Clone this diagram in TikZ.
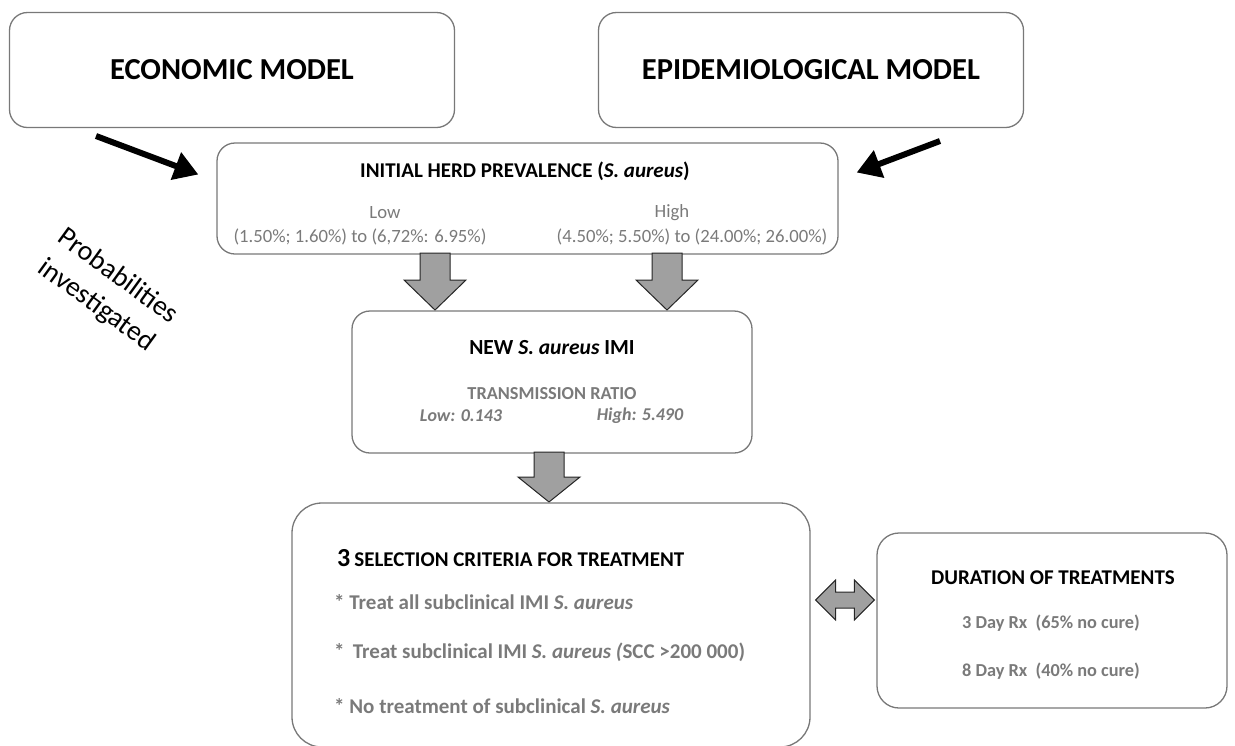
\documentclass[tikz,border=0pt]{standalone}
\usepackage{fontspec}
\setmainfont{Carlito}
\usetikzlibrary{positioning,arrows.meta,calc}
\definecolor{boxline}{RGB}{120,120,120}
\definecolor{softgray}{RGB}{122,122,122}
\definecolor{blockfill}{RGB}{160,160,160}
\tikzset{
  fatarrow/.style={-{Triangle[length=24pt,width=28pt]}, line width=6pt},
  blockarrow/.style={draw=black!85, line width=1pt, fill=blockfill, line join=miter},
  modelbox/.style={draw=boxline, line width=1.3pt, rounded corners=18pt, minimum width=445pt, minimum height=115pt, align=center, font=\bfseries\fontsize{30.5}{34}\selectfont},
  panel/.style={draw=boxline, line width=1.3pt, rounded corners=18pt, inner sep=0pt},
  headtext/.style={font=\bfseries\fontsize{21}{24}\selectfont, inner sep=1pt},
  greytext/.style={text=softgray, font=\fontsize{18.7}{22}\selectfont, inner sep=1pt},
  greybold/.style={text=softgray, font=\bfseries\fontsize{18.3}{21}\selectfont, inner sep=1pt},
  critline/.style={text=softgray, font=\bfseries\fontsize{21}{24}\selectfont, anchor=west, inner sep=1pt}
}
% block arrow pointing down: top point, tip point, head length
\newcommand{\downblock}[3]{%
  \draw[blockarrow] let \p1=#1, \p2=#2 in
    (\x1-15pt,\y1) -- (\x1+15pt,\y1) -- (\x1+15pt,\y2+#3) -- (\x1+31pt,\y2+#3) -- (\x1,\y2)
    -- (\x1-31pt,\y2+#3) -- (\x1-15pt,\y2+#3) -- cycle;}

\begin{document}
\begin{tikzpicture}[x=1pt, y=-1pt]
  \useasboundingbox (0,0) rectangle (1235,745);

  % models
  \node[modelbox] (econ) at (232,70) {ECONOMIC MODEL};
  \node[modelbox, minimum width=425pt] (epi) at (811,70) {EPIDEMIOLOGICAL MODEL};

  % initial herd prevalence
  \node[panel, minimum width=621pt, minimum height=111pt] (herd) at (527.5,198.5) {};
  \node[headtext] (herdtitle) at (525,171) {INITIAL HERD PREVALENCE (\textit{S. aureus})};
  \node[greytext] (lowlab) at (385,213) {Low};
  \node[greytext] (lowval) at (360,237) {(1.50\%; 1.60\%) to (6,72\%: 6.95\%)};
  \node[greytext] (highlab) at (672,213) {High};
  \node[greytext] (highval) at (692,237) {(4.50\%; 5.50\%) to (24.00\%; 26.00\%)};

  \coordinate (econtail) at (96,136);
  \coordinate (econtip) at ($(herd.west)+(-18,-24)$);
  \coordinate (epitail) at (940,141);
  \coordinate (epitip) at ($(herd.east)+(18,-26)$);
  \draw[fatarrow] (econtail) -- (econtip);
  \draw[fatarrow] (epitail) -- (epitip);

  \node[rotate=-36, align=center, font=\fontsize{28}{36}\selectfont] (probs) at (107,291) {Probabilities\\investigated};

  % new IMI
  \node[panel, minimum width=400pt, minimum height=142pt] (imi) at (552,382) {};
  \node[headtext, font=\bfseries\fontsize{21.5}{24}\selectfont] (imititle) at (552,348) {NEW \textit{S. aureus} IMI};
  \node[greybold] (ratio) at (552,394) {TRANSMISSION RATIO};
  \node[greybold, font=\bfseries\itshape\fontsize{18}{21}\selectfont] (ratiolow) at (461,416) {Low: 0.143};
  \node[greybold, font=\bfseries\itshape\fontsize{18}{21}\selectfont] (ratiohigh) at (640,416) {High: 5.490};

  \coordinate (d1top) at (435,253);
  \coordinate (d1tip) at (435,310);
  \coordinate (d2top) at (667,253);
  \coordinate (d2tip) at (667,310);
  \coordinate (d3top) at (549,452);
  \coordinate (d3tip) at (549,502);
  \downblock{(d1top)}{(d1tip)}{30pt}
  \downblock{(d2top)}{(d2tip)}{30pt}
  \downblock{(d3top)}{(d3tip)}{25pt}

  % selection criteria
  \node[panel, rounded corners=30pt, minimum width=518pt, minimum height=244pt] (select) at (551,625) {};
  \node[anchor=west, inner sep=1pt] (seltitle) at (336,558) {{\bfseries\fontsize{26}{28}\selectfont 3}\hspace{4pt}{\bfseries\fontsize{21}{24}\selectfont SELECTION CRITERIA FOR TREATMENT}};
  \node[critline] (crit1) at (333,602) {* Treat all subclinical IMI \textit{S. aureus}};
  \node[critline] (crit2) at (333,652) {* \,Treat subclinical IMI \textit{S. aureus (}SCC {>}200 000)};
  \node[critline] (crit3) at (333,706) {* No treatment of subclinical \textit{S. aureus}};

  % duration
  \node[panel, rounded corners=22pt, minimum width=350pt, minimum height=175pt] (dur) at (1052,620.5) {};
  \node[headtext] (durtitle) at (1053,578) {DURATION OF TREATMENTS};
  \node[greybold] (rx3) at (1051,623) {3 Day Rx \ (65\% no cure)};
  \node[greybold] (rx8) at (1051,671) {8 Day Rx \ (40\% no cure)};

  % two-way block arrow
  \coordinate (dl) at ($(select.east)+(5,-25)$);
  \coordinate (dr) at ($(dur.west)+(-2,-20.5)$);
  \draw[blockarrow] let \p1=(dl), \p2=(dr) in
    (\x1,\y1) -- (\x1+20pt,\y1+20pt) -- (\x1+20pt,\y1+8pt) -- (\x2-20pt,\y1+8pt) -- (\x2-20pt,\y1+20pt)
    -- (\x2,\y1) -- (\x2-20pt,\y1-20pt) -- (\x2-20pt,\y1-8pt) -- (\x1+20pt,\y1-8pt) -- (\x1+20pt,\y1-20pt) -- cycle;
\end{tikzpicture}
\end{document}
